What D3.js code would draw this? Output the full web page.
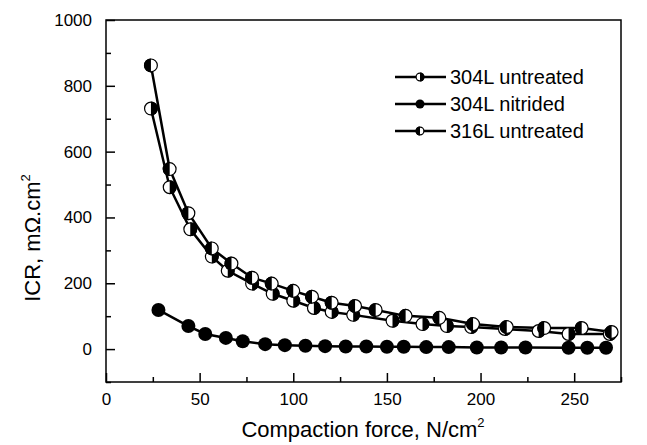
<!DOCTYPE html>
<html>
<head>
<meta charset="utf-8">
<script src="https://cdn.jsdelivr.net/npm/d3@7"></script>
<style>
  body { margin: 0; background: #fff; }
  svg { font-family: "Liberation Sans", Arial, sans-serif; }
</style>
</head>
<body>
<div id="chart"></div>
<script>
// data
const x304u = [24, 34, 45, 56.5, 65, 78, 89, 100, 111, 120.5, 132, 153, 169, 182, 195, 213, 231, 247, 269];
const y304u = [731, 492, 364, 281, 238, 199, 168, 147, 125, 113, 104, 86, 76, 70, 67, 61, 55, 46, 46];

const xNit = [28, 44, 53, 64, 73, 85, 95.5, 106.5, 117, 128, 139, 150, 159, 171, 183, 198, 211, 224, 247, 257, 267];
const yNit = [119, 70, 46, 34, 24, 15, 12, 10, 9, 8, 8, 7, 7, 6, 6, 5, 5, 5, 4, 4, 4];

const x316u = [24, 34, 44, 56.5, 67, 78, 88.5, 100, 110, 120.5, 133, 144, 160, 178, 196, 214, 234, 254, 270];
const y316u = [862, 547, 413, 306, 260, 217, 199, 177, 159, 141, 131, 119, 101, 95, 76, 67, 64, 64, 52];

const xTicks = [0, 50, 100, 150, 200, 250];
const yTicks = [0, 200, 400, 600, 800, 1000];

const seriesList = [
    { name: "304L untreated", xs: x304u, ys: y304u, kind: "rightBlack" },
    { name: "304L nitrided", xs: xNit, ys: yNit, kind: "full" },
    { name: "316L untreated", xs: x316u, ys: y316u, kind: "leftBlack" }
];

const W = 647, H = 445;
const margin = { top: 20, right: 26, bottom: 63, left: 106 };

const svg = d3.select("#chart").append("svg")
    .attr("width", W).attr("height", H);

const xScale = d3.scaleLinear().domain([0, 275]).range([margin.left, W - margin.right]);
const yScale = d3.scaleLinear().domain([-100, 1000]).range([H - margin.bottom, margin.top]);

// axes with inward ticks
const xAxis = d3.axisBottom(xScale).tickValues(xTicks).tickSize(-9).tickPadding(11).tickFormat(d3.format("d"));
const xMinor = d3.axisBottom(xScale).tickValues([25, 75, 125, 175, 225, 275]).tickSize(-5).tickFormat("");
const yAxis = d3.axisLeft(yScale).tickValues(yTicks).tickSize(-9).tickPadding(14).tickFormat(d3.format("d"));
const yMinor = d3.axisLeft(yScale).tickValues([-100, 100, 300, 500, 700, 900]).tickSize(-5).tickFormat("");

function styleAxis(g) {
    g.select(".domain").remove();
    g.selectAll("line").attr("stroke", "#000").attr("stroke-width", 1.5);
    g.selectAll("text").attr("font-size", 17).attr("fill", "#000");
}

svg.append("g").attr("transform", `translate(0,${yScale(-100)})`).call(xAxis).call(styleAxis);
svg.append("g").attr("transform", `translate(0,${yScale(-100)})`).call(xMinor).call(styleAxis);
svg.append("g").attr("transform", `translate(${xScale(0)},0)`).call(yAxis).call(styleAxis);
svg.append("g").attr("transform", `translate(${xScale(0)},0)`).call(yMinor).call(styleAxis);

// frame
svg.append("rect")
    .attr("x", xScale(0)).attr("y", yScale(1000))
    .attr("width", xScale(275) - xScale(0)).attr("height", yScale(-100) - yScale(1000))
    .attr("fill", "none").attr("stroke", "#000").attr("stroke-width", 1.5);

// axis titles
const xt = svg.append("text")
    .attr("x", 363).attr("y", 437)
    .attr("text-anchor", "middle").attr("font-size", 22)
    .text("Compaction force, N/cm");
xt.append("tspan").attr("font-size", 13).attr("dy", -10).text("2");

const yt = svg.append("text")
    .attr("transform", "translate(40,238) rotate(-90)")
    .attr("text-anchor", "middle").attr("font-size", 22)
    .text("ICR, m\u03A9.cm");
yt.append("tspan").attr("font-size", 13).attr("dy", -10).text("2");

// marker drawing
function drawMarker(g, cx, cy, r, kind) {
    if (kind === "full") {
        g.append("circle").attr("cx", cx).attr("cy", cy).attr("r", r).attr("fill", "#000");
        return;
    }
    g.append("circle").attr("cx", cx).attr("cy", cy).attr("r", r - 0.6)
        .attr("fill", "#fff").attr("stroke", "#000").attr("stroke-width", 1.2);
    const sweep = kind === "leftBlack" ? 0 : 1;
    g.append("path")
        .attr("d", `M${cx},${cy - r} A${r},${r} 0 0 ${sweep} ${cx},${cy + r} Z`)
        .attr("fill", "#000");
}

const line = d3.line().x(d => xScale(d[0])).y(d => yScale(d[1]));

seriesList.forEach(s => {
    const pts = s.xs.map((x, i) => [x, s.ys[i]]);
    svg.append("path").datum(pts).attr("d", line)
        .attr("fill", "none").attr("stroke", "#000").attr("stroke-width", 2.5);
});
seriesList.forEach(s => {
    const g = svg.append("g");
    s.xs.forEach((x, i) => drawMarker(g, xScale(x), yScale(s.ys[i]), 7, s.kind));
});

// legend
const legY = [77, 104, 131];
seriesList.forEach((s, i) => {
    const g = svg.append("g");
    g.append("line").attr("x1", 395).attr("x2", 446).attr("y1", legY[i]).attr("y2", legY[i])
        .attr("stroke", "#000").attr("stroke-width", 2.5);
    drawMarker(g, 420, legY[i], 4.5, s.kind);
    g.append("text").attr("x", 450).attr("y", legY[i] + 7)
        .attr("font-size", 20).text(s.name);
});
</script>
</body>
</html>
